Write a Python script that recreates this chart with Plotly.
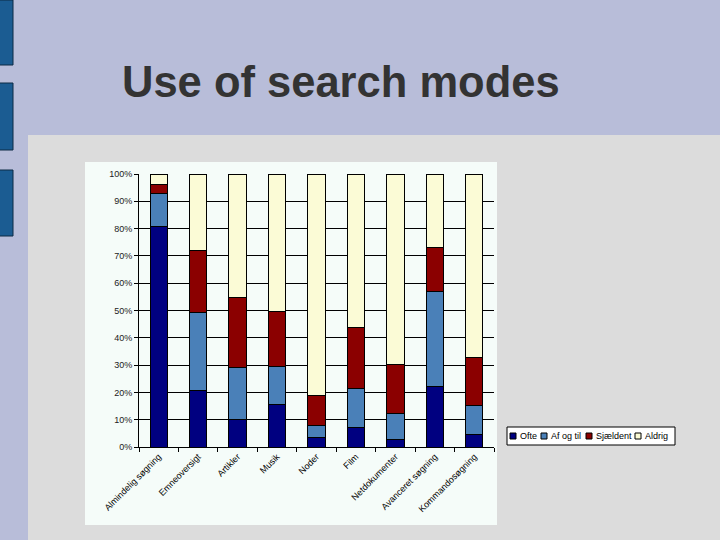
import plotly.graph_objects as go

categories = ["Almindelig søgning", "Emneoversigt", "Artikler", "Musik", "Noder",
              "Film", "Netdokumenter", "Avanceret søgning", "Kommandosøgning"]
series_names = ["Ofte", "Af og til", "Sjældent", "Aldrig"]
ofte = [80.8, 20.7, 10.0, 15.5, 3.4, 7.1, 2.7, 22.1, 4.5]
af_og_til = [12.2, 28.7, 19.3, 14.0, 4.5, 14.4, 9.6, 34.7, 10.8]
sjaeldent = [3.2, 22.6, 25.5, 20.0, 10.8, 22.1, 18.1, 16.2, 17.5]
aldrig = [3.8, 28.0, 45.2, 50.5, 81.3, 56.4, 69.6, 27.0, 67.2]
tick_vals = [0, 10, 20, 30, 40, 50, 60, 70, 80, 90, 100]
tick_text = ["0%", "10%", "20%", "30%", "40%", "50%", "60%", "70%", "80%", "90%", "100%"]
title_text = "Use of search modes"

colors = ["#000080", "#4a80b8", "#8b0000", "#fbfbd6"]
values = [ofte, af_og_til, sjaeldent, aldrig]

W, H = 720, 540
L, R, T, B = 139, 494, 174, 447


def px(x):
    return (x - L) / (R - L)


def py(y):
    return (B - y) / (B - T)


fig = go.Figure()
for name, vals, col in zip(series_names, values, colors):
    fig.add_trace(go.Bar(x=categories, y=vals, name=name, marker_color=col,
                         marker_line_color="#000000", marker_line_width=1,
                         showlegend=False))

shapes = [
    dict(type="rect", xref="paper", yref="paper", x0=px(28), x1=px(720), y0=py(540), y1=py(135),
         fillcolor="#dcdcdc", line_width=0, layer="below"),
    dict(type="rect", xref="paper", yref="paper", x0=px(85), x1=px(497), y0=py(525), y1=py(162),
         fillcolor="#f5fcf9", line_width=0, layer="below"),
]
for y0, y1 in [(0, 65), (83, 150), (170, 236)]:
    shapes.append(dict(type="rect", xref="paper", yref="paper", x0=px(-2), x1=px(13),
                       y0=py(y1), y1=py(y0), fillcolor="#1b5c92",
                       line=dict(color="#0d2a44", width=1), layer="below"))

shapes.append(dict(type="rect", xref="paper", yref="paper", x0=px(507), x1=px(675),
                   y0=py(445), y1=py(427), fillcolor="#ffffff",
                   line=dict(color="#000000", width=1)))
annotations = []
sq_x = [510, 541, 586, 635]
for sx, name, col in zip(sq_x, series_names, colors):
    shapes.append(dict(type="rect", xref="paper", yref="paper", x0=px(sx), x1=px(sx + 6),
                       y0=py(439), y1=py(433), fillcolor=col,
                       line=dict(color="#000000", width=1)))
    annotations.append(dict(x=px(sx + 8), y=py(436), xref="paper", yref="paper",
                            text=name, showarrow=False, xanchor="left", yanchor="middle",
                            font=dict(family="Liberation Sans", size=9, color="#000000")))

annotations.append(dict(x=px(120), y=py(82), xref="paper", yref="paper", text="<b>" + title_text + "</b>",
                        showarrow=False, xanchor="left", yanchor="middle",
                        font=dict(family="Liberation Sans", size=43.5, color="#333333")))

fig.update_layout(
    width=W, height=H,
    margin=dict(l=L, r=W - R, t=T, b=H - B, pad=0),
    barmode="stack", bargap=0.56,
    paper_bgcolor="#b8bdd9", plot_bgcolor="#f5fcf9",
    shapes=shapes, annotations=annotations,
    font=dict(family="Liberation Sans", size=9, color="#222222"),
)
fig.update_yaxes(range=[0, 100], tickvals=tick_vals, ticktext=tick_text,
                 showgrid=True, gridcolor="#000000", gridwidth=1,
                 showline=True, linecolor="#000000", linewidth=1,
                 ticks="outside", ticklen=4, tickcolor="#000000", zeroline=False)
fig.update_xaxes(tickangle=-45, tickson="boundaries", ticks="outside", ticklen=4,
                 tickcolor="#000000", showline=True, linecolor="#000000", linewidth=1,
                 showgrid=False, tickfont=dict(size=9, color="#000000"))

fig.write_html("out.html", config={"displayModeBar": False},
               post_script="document.body.style.margin='0';document.body.style.padding='0';")
